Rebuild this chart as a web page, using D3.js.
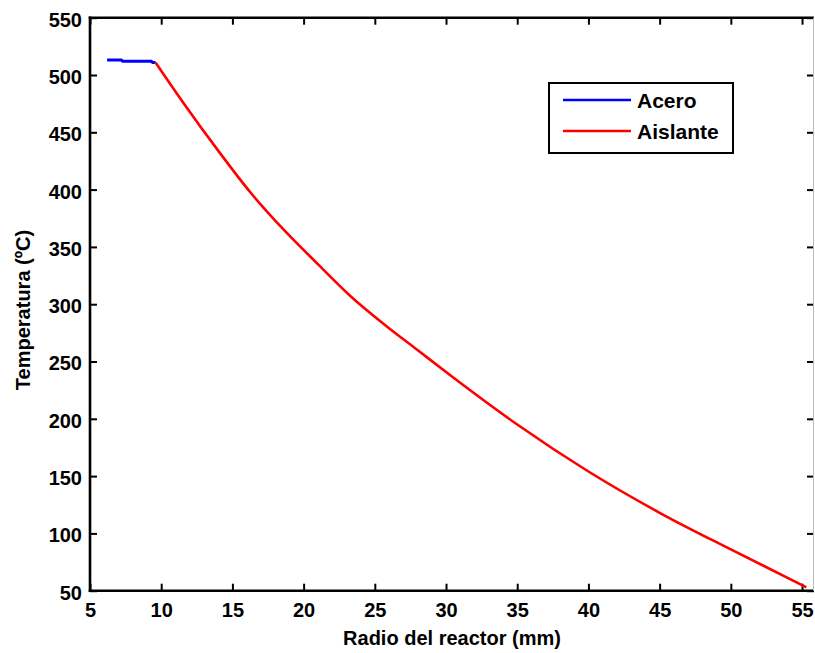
<!DOCTYPE html>
<html>
<head>
<meta charset="utf-8">
<script src="https://cdn.jsdelivr.net/npm/d3@7"></script>
<style>
    body { margin: 0; background: #fff; }
    svg { display: block; }
    text { font-family: "Liberation Sans", Arial, sans-serif; font-weight: bold; fill: #000; }
</style>
</head>
<body>
<svg id="chart"></svg>
<script>
// radio (mm) / temperatura (ºC)
const aceroX = [6.2, 7.2, 7.3, 9.3, 9.4, 9.6];
const aceroT = [513, 513, 512, 512, 511, 511];
const aislanteX = [9.6, 11.6, 14, 16.3, 18.6, 21, 23.3, 25.6, 28, 30.3, 35, 40, 45, 50, 55.3];
const aislanteT = [511, 475, 434, 397, 365, 335, 307, 283, 260, 238, 195, 154, 118, 86, 53];
const xTicks = [5, 10, 15, 20, 25, 30, 35, 40, 45, 50, 55];
const yTicks = [50, 100, 150, 200, 250, 300, 350, 400, 450, 500, 550];
const seriesNames = ["Acero", "Aislante"];
const seriesColors = ["#0000ff", "#ff0000"];

const W = 815, H = 653;
const margin = { top: 17.7, right: 1, bottom: 62.3, left: 90 };
const width = W - margin.left - margin.right;
const height = H - margin.top - margin.bottom;

const svg = d3.select("#chart").attr("width", W).attr("height", H);
const g = svg.append("g").attr("transform", `translate(${margin.left},${margin.top})`);

const x = d3.scaleLinear().domain([5, 55.84]).range([0, width]);
const y = d3.scaleLinear().domain([50, 550]).range([height, 0]);

const fontSize = "20px";

// bottom axis
const xAxis = g.append("g")
    .attr("transform", `translate(0,${height})`)
    .call(d3.axisBottom(x).tickValues(xTicks).tickFormat(d3.format("d"))
        .tickSizeInner(-7).tickSizeOuter(0).tickPadding(12));
// top mirror ticks
const xTop = g.append("g")
    .call(d3.axisTop(x).tickValues(xTicks).tickFormat("")
        .tickSizeInner(-7).tickSizeOuter(0));
// left axis
const yAxis = g.append("g")
    .call(d3.axisLeft(y).tickValues(yTicks).tickFormat(d3.format("d"))
        .tickSizeInner(-7).tickSizeOuter(0).tickPadding(8));
// right mirror ticks
const yRight = g.append("g")
    .attr("transform", `translate(${width},0)`)
    .call(d3.axisRight(y).tickValues(yTicks).tickFormat("")
        .tickSizeInner(-7).tickSizeOuter(0));

[xAxis, xTop, yAxis, yRight].forEach((a) => {
    a.select(".domain").remove();
    a.selectAll(".tick line").attr("stroke", "#000").attr("stroke-width", 2);
    a.selectAll(".tick text").style("font-size", fontSize).style("font-family", null);
});
yAxis.selectAll(".tick text").attr("dy", "0.42em");

// frame
g.append("line").attr("x1", 0).attr("x2", 0).attr("y1", -1.3).attr("y2", height + 1.3)
    .attr("stroke", "#000").attr("stroke-width", 2.6);
g.append("line").attr("x1", -1.3).attr("x2", width).attr("y1", height).attr("y2", height)
    .attr("stroke", "#000").attr("stroke-width", 2.6);
g.append("line").attr("x1", -1.3).attr("x2", width).attr("y1", 0).attr("y2", 0)
    .attr("stroke", "#000").attr("stroke-width", 2.6);
g.append("line").attr("x1", width - 0.5).attr("x2", width - 0.5).attr("y1", 0).attr("y2", height)
    .attr("stroke", "#bbb").attr("stroke-width", 1);

// lines
const line = d3.line().x((d) => x(d[0])).y((d) => y(d[1]));
const acero = aceroX.map((v, i) => [v, aceroT[i]]);
const aislante = aislanteX.map((v, i) => [v, aislanteT[i]]);

g.append("path").datum(acero)
    .attr("fill", "none").attr("stroke", seriesColors[0]).attr("stroke-width", 3)
    .attr("d", line);
g.append("path").datum(aislante)
    .attr("fill", "none").attr("stroke", seriesColors[1]).attr("stroke-width", 2.6)
    .attr("stroke-linejoin", "round")
    .attr("d", d3.line().curve(d3.curveMonotoneX).x((d) => x(d[0])).y((d) => y(d[1])));

// legend
const legend = svg.append("g").attr("transform", "translate(549,83)");
legend.append("rect").attr("width", 184).attr("height", 70)
    .attr("fill", "#fff").attr("stroke", "#000").attr("stroke-width", 2);
seriesNames.forEach((name, i) => {
    const ly = 17 + i * 31;
    legend.append("line").attr("x1", 14).attr("x2", 82).attr("y1", ly).attr("y2", ly)
        .attr("stroke", seriesColors[i]).attr("stroke-width", 2.5);
    legend.append("text").attr("x", 88).attr("y", ly + 8)
        .style("font-size", "21px").text(name);
});

// axis titles
svg.append("text")
    .attr("x", margin.left + width / 2).attr("y", 645)
    .attr("text-anchor", "middle").style("font-size", fontSize)
    .text("Radio del reactor (mm)");
svg.append("text")
    .attr("transform", "translate(30,310) rotate(-90)")
    .attr("text-anchor", "middle").style("font-size", fontSize)
    .text("Temperatura (ºC)");
</script>
</body>
</html>
